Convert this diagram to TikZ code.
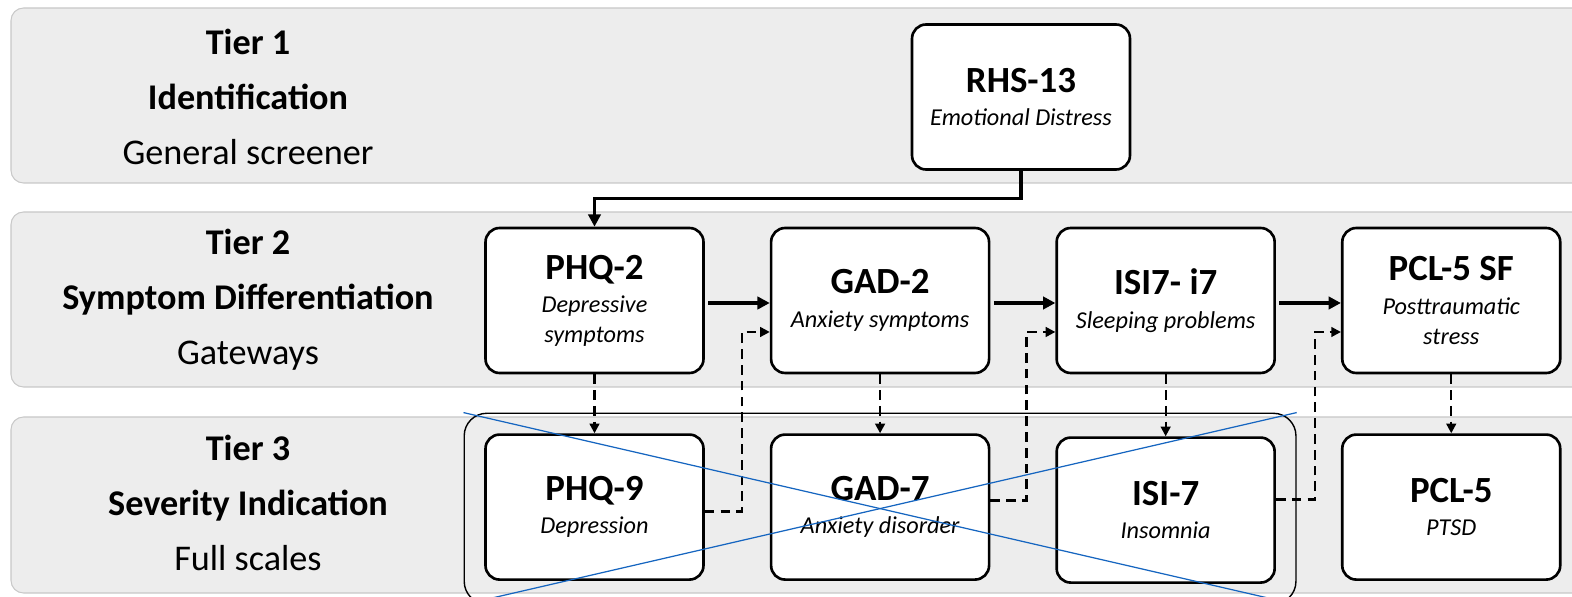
\documentclass[tikz,border=0pt]{standalone}
\usepackage{fontspec}
\setmainfont{Carlito}
\usepackage{xcolor}
\usetikzlibrary{arrows.meta,positioning,fit}

\definecolor{bandgray}{HTML}{EDEDED}
\definecolor{bandline}{HTML}{C8C8C8}
\definecolor{crossblue}{HTML}{1565C0}
\newcommand{\titlefont}{\fontsize{21}{24}\selectfont\bfseries\upshape}
\newcommand{\subfont}{\fontsize{13.8}{17}\selectfont\itshape}
\newcommand{\labelfont}{\fontsize{20.6}{31.3}\selectfont}

\begin{document}
\begin{tikzpicture}[x=0.02cm, y=-0.02cm,
    band/.style={draw=bandline, line width=0.6pt, fill=bandgray, rounded corners=0.25cm},
    tier/.style={font=\labelfont, align=center},
    box/.style={draw, line width=1.5pt, rounded corners=0.28cm, fill=white, align=center, minimum width=4.36cm, minimum height=2.9cm, font=\subfont, inner sep=2pt},
    flow/.style={-{Triangle[length=7pt,width=7pt]}, line width=2pt, shorten <=2pt},
    gate/.style={-{Triangle[length=5.5pt,width=5.5pt]}, line width=1.3pt, dash pattern=on 5.5pt off 3.5pt},
    frame/.style={draw, line width=0.8pt, rounded corners=0.45cm, inner sep=0.4cm},
    cross/.style={draw=crossblue, line width=0.7pt}
]
    \useasboundingbox (0,0) rectangle (1572,597);

    % tier bands
    \draw[band] (11,8) rectangle (1620,183);
    \draw[band] (11,212) rectangle (1620,387);
    \draw[band] (11,417) rectangle (1620,593);

    % tier labels
    \node[tier] (tierone) at (248,97) {\textbf{Tier 1}\\\textbf{Identification}\\General screener};
    \node[tier] (tiertwo) at (248,300) {\textbf{Tier 2}\\\textbf{Symptom Differentiation}\\Gateways};
    \node[tier] (tierthree) at (248,503) {\textbf{Tier 3}\\\textbf{Severity Indication}\\Full scales};

    % Tier 1: general screener
    \node[box] (rhs) at (1021,97) {{\titlefont RHS-13}\\[2pt]Emotional Distress};

    % Tier 2: gateways
    \node[box] (phq2) at (594.5,300.5) {{\titlefont PHQ-2}\\[2pt]Depressive\\symptoms};
    \node[box, right=1.3cm of phq2] (gad2) {{\titlefont GAD-2}\\[2pt]Anxiety symptoms};
    \node[box, right=1.3cm of gad2] (isi2) {{\titlefont ISI7- i7}\\[2pt]Sleeping problems};
    \node[box, right=1.3cm of isi2] (pclsf) {{\titlefont PCL-5 SF}\\[2pt]Posttraumatic\\stress};

    % Tier 3: full scales
    \node[box, below=1.18cm of phq2] (phq9) {{\titlefont PHQ-9}\\[2pt]Depression};
    \node[box, below=1.18cm of gad2] (gad7) {{\titlefont GAD-7}\\[2pt]Anxiety disorder};
    \node[box, below=1.24cm of isi2] (isi7) {{\titlefont ISI-7}\\[2pt]Insomnia};
    \node[box, below=1.18cm of pclsf] (pcl5) {{\titlefont PCL-5}\\[2pt]PTSD};

    % screener to first gateway
    \draw[flow, shorten <=0pt] (rhs.south) |- ([yshift=0.56cm]phq2.north) -- (phq2.north);

    % gateway chain
    \draw[flow] ([yshift=-0.05cm]phq2.east) -- ([yshift=-0.05cm]gad2.west);
    \draw[flow] ([yshift=-0.05cm]gad2.east) -- ([yshift=-0.05cm]isi2.west);
    \draw[flow] ([yshift=-0.05cm]isi2.east) -- ([yshift=-0.05cm]pclsf.west);

    % gateway to full scale
    \draw[gate] (phq2) -- (phq9);
    \draw[gate] (gad2) -- (gad7);
    \draw[gate] (isi2) -- (isi7);
    \draw[gate] (pclsf) -- (pcl5);

    % full scale back to next gateway
    \draw[gate] ([yshift=-0.09cm]phq9.east) -| ([xshift=-0.56cm,yshift=-0.63cm]gad2.west) -- ([yshift=-0.63cm]gad2.west);
    \draw[gate] ([yshift=0.13cm]gad7.east) -| ([xshift=-0.58cm,yshift=-0.63cm]isi2.west) -- ([yshift=-0.63cm]isi2.west);
    \draw[gate] ([yshift=0.21cm]isi7.east) -| ([xshift=-0.52cm,yshift=-0.63cm]pclsf.west) -- ([yshift=-0.63cm]pclsf.west);

    % crossed-out group
    \node[frame, fit=(phq9)(isi7)] (scales) {};
    \draw[cross] (scales.north west) -- (scales.south east);
    \draw[cross] (scales.south west) -- (scales.north east);
\end{tikzpicture}
\end{document}
